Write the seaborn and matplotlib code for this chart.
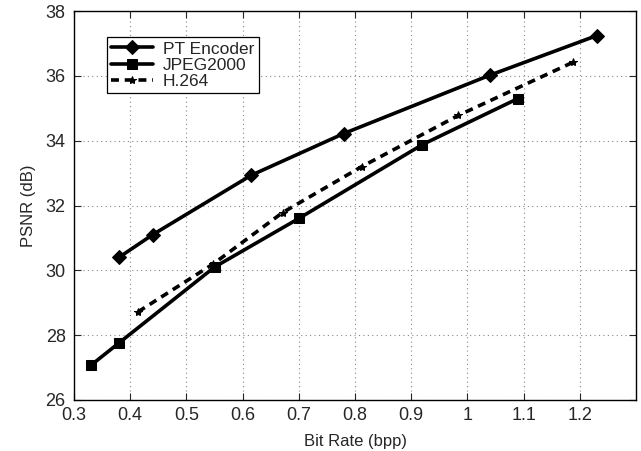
import matplotlib
matplotlib.use("Agg")
import matplotlib.pyplot as plt
import seaborn as sns
import pandas as pd

pt_x = [0.38, 0.44, 0.615, 0.78, 1.04, 1.23]
pt_y = [30.4, 31.1, 32.93, 34.22, 36.02, 37.24]
jp_x = [0.33, 0.38, 0.55, 0.70, 0.92, 1.09]
jp_y = [27.07, 27.76, 30.1, 31.6, 33.88, 35.3]
h264_x = [0.414, 0.548, 0.671, 0.812, 0.984, 1.188]
h264_y = [28.72, 30.2, 31.78, 33.2, 34.78, 36.42]

x_ticks = [0.3, 0.4, 0.5, 0.6, 0.7, 0.8, 0.9, 1.0, 1.1, 1.2]
x_tick_labels = ["0.3", "0.4", "0.5", "0.6", "0.7", "0.8", "0.9", "1", "1.1", "1.2"]
y_ticks = [26, 28, 30, 32, 34, 36, 38]

sns.set_style("ticks")
plt.rcParams['font.family'] = ['Liberation Sans', 'DejaVu Sans']

fig = plt.figure(figsize=(6.41, 4.51), dpi=100)
ax = fig.add_axes([74/641, 1 - 400/451, (636-74)/641, (400-11)/451])

series = [
    ("PT Encoder", pt_x, pt_y, "-", "D", 7),
    ("JPEG2000", jp_x, jp_y, "-", "s", 7),
    ("H.264", h264_x, h264_y, (0, (2.2, 1.6)), "*", 6),
]
for name, xs, ys, ls, mk, ms in series:
    df = pd.DataFrame({"x": xs, "y": ys})
    sns.lineplot(data=df, x="x", y="y", ax=ax, color="black", linewidth=2.6,
                 linestyle=ls, marker=mk, markersize=ms, markeredgecolor="black",
                 markerfacecolor="black", label=name, sort=False)

ax.set_xlim(0.3, 1.3)
ax.set_ylim(26, 38)
ax.set_xticks(x_ticks)
ax.set_xticklabels(x_tick_labels)
ax.set_yticks(y_ticks)
ax.grid(True, linestyle=(0, (1, 3)), color="#888888", linewidth=0.8)
ax.tick_params(direction="in", top=True, right=True, labelsize=13, length=5)
ax.tick_params(axis="x", pad=5)
ax.tick_params(axis="y", pad=6)
for s in ax.spines.values():
    s.set_linewidth(1.0)
    s.set_color("black")
ax.set_xlabel("Bit Rate (bpp)", fontsize=12, labelpad=7)
ax.set_ylabel("PSNR (dB)", fontsize=12, labelpad=7)

leg = ax.legend(loc="upper left", bbox_to_anchor=(0.058, 0.933), borderaxespad=0,
                fontsize=12.5,
                frameon=True, fancybox=False, edgecolor="black", framealpha=1,
                handlelength=2.4, borderpad=0.25, labelspacing=0.05, handletextpad=0.6)
leg.get_frame().set_linewidth(0.9)

fig.savefig("out.png", dpi=100)
